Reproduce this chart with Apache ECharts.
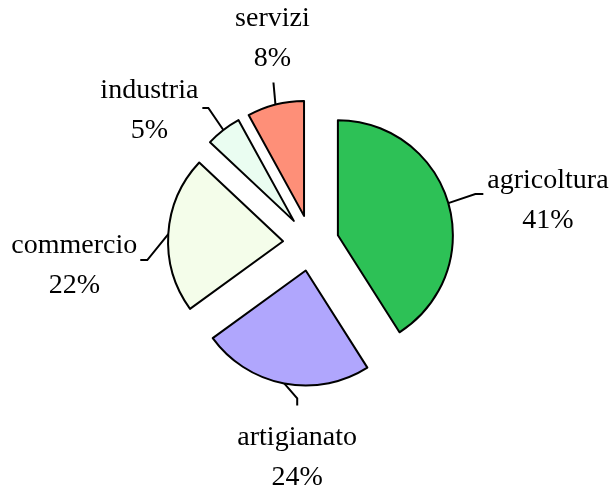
<!DOCTYPE html>
<html>
<head>
<meta charset="utf-8">
<script src="https://cdn.jsdelivr.net/npm/echarts@6/dist/echarts.min.js"></script>
<style>
html, body { margin: 0; padding: 0; background: #fff; }
#chart { width: 611px; height: 485px; }
</style>
</head>
<body>
<div id="chart"></div>
<script>
var categories = ['agricoltura', 'artigianato', 'commercio', 'industria', 'servizi'];
var values = [41, 24, 22, 5, 8];
var colors = ['#2dc156', '#b0a6fd', '#f4fdea', '#eafdf1', '#fe8f78'];

var pieCenter = [311, 243];
var pieRadius = 115;
var explode = 28;

// leader line per label, relative to the middle of the slice's arc
// (elbow, end) and where the text sits against the end of the line
var leaders = [
    { elbow: [27, -9], end: [35, -9], side: 'right', dx: 4, dy: 7 },
    { elbow: [13, 15], end: [13, 22], side: 'bottom', dx: 0, dy: 12 },
    { elbow: [-21, 26], end: [-28, 26], side: 'left', dx: -3, dy: 6 },
    { elbow: [-15, -22], end: [-21, -22], side: 'left', dx: -4, dy: 3 },
    { elbow: [-1, -11], end: [-2, -22], side: 'top', dx: -1, dy: -4 }
];

var chart = echarts.init(document.getElementById('chart'));

var total = 0;
for (var i = 0; i < values.length; i++) total += values[i];

var hidden = {
    itemStyle: { color: 'rgba(0,0,0,0)', borderWidth: 0 },
    label: { show: false },
    labelLine: { show: false }
};

// every slice is its own pie, pulled out from the common centre
// along its middle angle; the rest of the circle is left empty
function slicePie(idx) {
    var before = 0;
    for (var k = 0; k < idx; k++) before += values[k];
    var after = total - before - values[idx];
    var ang = (before + values[idx] / 2) / total * Math.PI * 2;
    var dir = [Math.sin(ang), -Math.cos(ang)];
    var c = [pieCenter[0] + dir[0] * explode, pieCenter[1] + dir[1] * explode];
    var l = leaders[idx];
    var a = [c[0] + dir[0] * pieRadius, c[1] + dir[1] * pieRadius];
    var elbow = [a[0] + l.elbow[0], a[1] + l.elbow[1]];
    var end = [a[0] + l.end[0], a[1] + l.end[1]];
    var align = 'center', valign = 'middle';
    if (l.side === 'right') align = 'left';
    if (l.side === 'left') align = 'right';
    if (l.side === 'top') valign = 'bottom';
    if (l.side === 'bottom') valign = 'top';
    return {
        type: 'pie',
        center: c,
        radius: pieRadius,
        startAngle: 90,
        clockwise: true,
        silent: true,
        avoidLabelOverlap: false,
        itemStyle: {
            borderColor: '#000',
            borderWidth: 2
        },
        label: {
            formatter: '{t|{b}}\n{t|{c}%}',
            rich: {
                t: {
                    fontFamily: 'Liberation Serif',
                    fontSize: 28,
                    lineHeight: 40,
                    color: '#000',
                    align: 'center'
                }
            }
        },
        labelLine: {
            length: 25,
            length2: 8,
            lineStyle: { color: '#000', width: 2 }
        },
        labelLayout: function (p) {
            if (p.dataIndex !== 1) return {};
            return {
                labelLinePoints: [a, elbow, end],
                x: end[0] + l.dx,
                y: end[1] + l.dy,
                align: align,
                verticalAlign: valign
            };
        },
        data: [
            echarts.util.extend({ name: '', value: before }, hidden),
            { name: categories[idx], value: values[idx], itemStyle: { color: colors[idx] } },
            echarts.util.extend({ name: ' ', value: after }, hidden)
        ]
    };
}

var series = [];
for (var i = 0; i < categories.length; i++) series.push(slicePie(i));

chart.setOption({
    animation: false,
    series: series
});
</script>
</body>
</html>
